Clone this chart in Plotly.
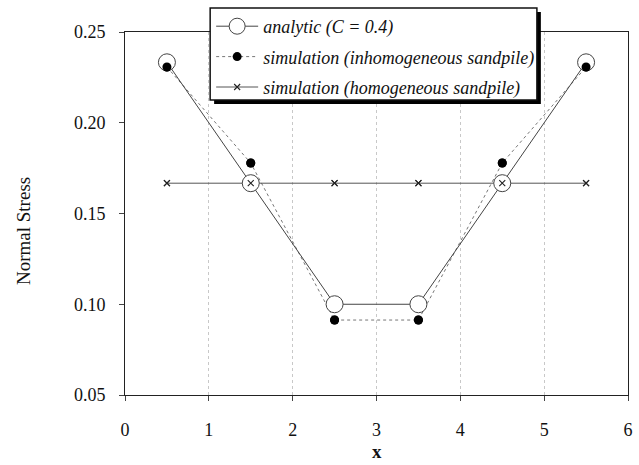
import plotly.graph_objects as go

# Normal stress under a sandpile, sampled at the centre of each column
x_pos = [0.5, 1.5, 2.5, 3.5, 4.5, 5.5]
analytic = [0.2333, 0.1667, 0.1000, 0.1000, 0.1667, 0.2333]
sim_inhom = [0.2307, 0.1778, 0.0913, 0.0913, 0.1778, 0.2307]
sim_hom = [0.1667, 0.1667, 0.1667, 0.1667, 0.1667, 0.1667]

x_ticks = [0, 1, 2, 3, 4, 5, 6]
y_ticks = [0.05, 0.10, 0.15, 0.20, 0.25]

SERIF = "Liberation Serif, Times New Roman, serif"
INK = "#111111"

W, H = 639, 465
L, R, T, B = 125, 6, 32, 70
PW, PH = W - L - R, H - T - B


def px_x(p):
    """Horizontal pixel position -> paper coordinate."""
    return (p - L) / PW


def px_y(p):
    """Vertical pixel position (from top) -> paper coordinate."""
    return (H - B - p) / PH


fig = go.Figure()

fig.add_trace(go.Scatter(
    x=x_pos, y=sim_inhom, mode="lines+markers",
    name="simulation (inhomogeneous sandpile)",
    line=dict(color="#777777", width=1, dash="dot"),
    marker=dict(symbol="circle", size=9, color="#000000"),
    legendgroup="b", legendrank=2,
))
fig.add_trace(go.Scatter(
    x=x_pos, y=sim_hom, mode="lines+markers",
    name="simulation (homogeneous sandpile)",
    line=dict(color="#555555", width=1),
    marker=dict(symbol="x-thin", size=6, line=dict(color="#222222", width=1.1)),
    legendgroup="c", legendrank=3,
))
fig.add_trace(go.Scatter(
    x=x_pos, y=analytic, mode="lines+markers",
    name="analytic (<i>C</i> = 0.4)",
    line=dict(color="#444444", width=1),
    marker=dict(symbol="circle", size=17, color="#ffffff",
                line=dict(color="#444444", width=1)),
    legendgroup="a", legendrank=1,
))
# simulation markers repeated on top of the open analytic circles
fig.add_trace(go.Scatter(
    x=x_pos, y=sim_inhom, mode="markers", showlegend=False, hoverinfo="skip",
    marker=dict(symbol="circle", size=9, color="#000000"),
))
fig.add_trace(go.Scatter(
    x=x_pos, y=sim_hom, mode="markers", showlegend=False, hoverinfo="skip",
    marker=dict(symbol="x-thin", size=6, line=dict(color="#222222", width=1.1)),
))

# legend frame: black drop shadow, then the white box with its border;
# the legend entries themselves are drawn on top with a transparent background
fig.add_shape(type="rect", xref="paper", yref="paper",
              x0=px_x(215), x1=px_x(545), y0=px_y(104), y1=px_y(12),
              fillcolor="#000000", line=dict(width=0), layer="above")
fig.add_shape(type="rect", xref="paper", yref="paper",
              x0=px_x(211), x1=px_x(541), y0=px_y(100), y1=px_y(8),
              fillcolor="#ffffff", line=dict(color="#111111", width=1.5),
              layer="above")

axis_common = dict(
    showline=True, linecolor="#222222", linewidth=1, mirror=True,
    ticks="outside", ticklen=5, tickcolor="#444444",
    tickfont=dict(family=SERIF, size=18, color=INK),
    zeroline=False,
)

fig.update_xaxes(
    range=[0, 6], tickvals=x_ticks, ticklabelstandoff=13,
    showgrid=True, gridcolor="#c8c8c8", griddash="dot", gridwidth=1,
    **axis_common,
)
fig.update_yaxes(
    range=[0.05, 0.25], tickvals=y_ticks, tickformat=".2f", ticklabelstandoff=10,
    showgrid=False,
    **axis_common,
)

# axis titles
fig.add_annotation(text="x", xref="paper", yref="paper",
                   x=px_x(379), y=px_y(452), xanchor="center", yanchor="middle",
                   showarrow=False,
                   font=dict(family=SERIF, size=19, color=INK, weight="bold"))
fig.add_annotation(text="Normal Stress", xref="paper", yref="paper",
                   x=px_x(22), y=px_y(231), xanchor="center", yanchor="middle",
                   textangle=-90, showarrow=False,
                   font=dict(family=SERIF, size=19, color=INK))

fig.update_layout(
    width=W, height=H,
    margin=dict(l=L, r=R, t=T, b=B),
    paper_bgcolor="#ffffff", plot_bgcolor="#ffffff",
    font=dict(family=SERIF, color=INK),
    showlegend=True,
    legend=dict(
        x=px_x(212), y=px_y(8), xanchor="left", yanchor="top",
        bgcolor="rgba(0,0,0,0)", borderwidth=0,
        font=dict(family=SERIF, size=18, color=INK, style="italic"),
        traceorder="grouped", tracegroupgap=4, itemwidth=42,
    ),
)

fig.write_html("out.html")
